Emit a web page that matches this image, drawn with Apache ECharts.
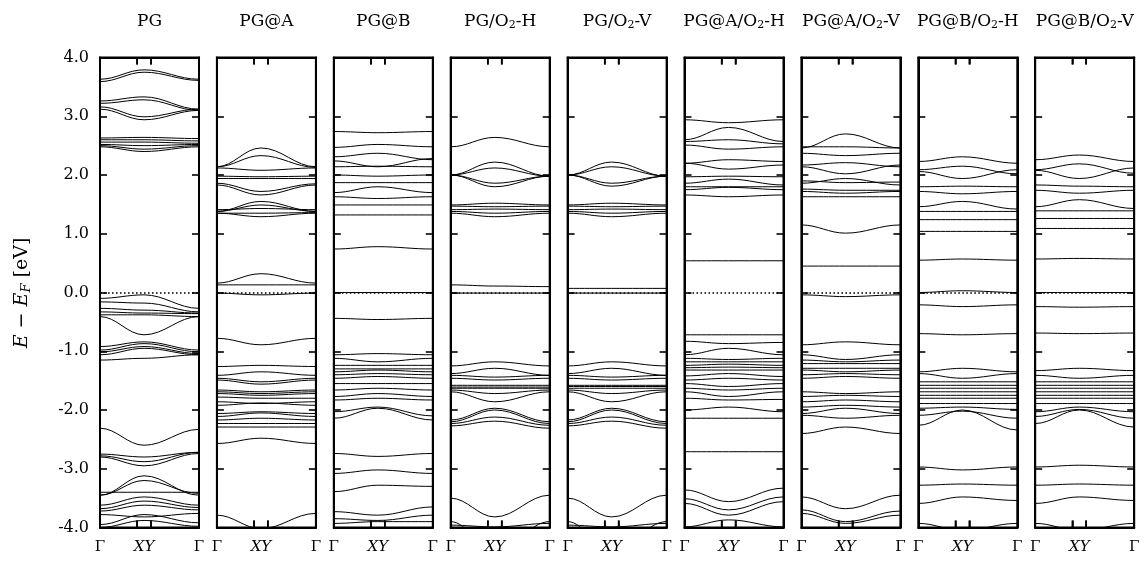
<!DOCTYPE html>
<html><head><meta charset="utf-8">
<script src="https://cdn.jsdelivr.net/npm/echarts@6/dist/echarts.min.js"></script>
<style>html,body{margin:0;padding:0;background:#fff}#c{width:1145px;height:561px}</style>
</head><body><div id="c"></div><script>
// ---------- data ----------
const panelTitles = ['PG','PG@A','PG@B','PG/O2-H','PG/O2-V','PG@A/O2-H','PG@A/O2-V','PG@B/O2-H','PG@B/O2-V'];
const kPoints = [0, 0.445, 1];          // Γ, XY, Γ
const kTicks = [0.375, 0.515];         // X, Y tick positions
const kLabels = ['Γ', 'XY', 'Γ'];
const fermiLevel = 0;
const yMin = -4, yMax = 4;
// each band: [E(Γ), E(XY), E(Γ)]
const bandsPG = [
[3.63,3.79,3.63],[3.59,3.75,3.61],
[3.26,3.33,3.12],[3.22,3.28,3.10],[3.16,2.99,3.12],[3.12,2.94,3.10],
[2.63,2.64,2.62],[2.60,2.60,2.58],[2.56,2.56,2.54],[2.52,2.50,2.52],[2.50,2.44,2.50],[2.48,2.40,2.48],
[-0.10,-0.04,-0.27],[-0.16,-0.18,-0.33],[-0.27,-0.30,-0.35],[-0.33,-0.35,-0.36],[-0.38,-0.38,-0.41],[-0.41,-0.72,-0.41],
[-0.92,-0.84,-0.98],[-0.98,-0.87,-1.01],[-1.01,-0.92,-1.04],[-1.06,-0.95,-1.06],[-1.15,-1.12,-1.06],
[-2.31,-2.60,-2.33],
[-2.75,-2.80,-2.72],[-2.78,-2.88,-2.72],[-2.80,-2.95,-2.74],
[-3.45,-3.12,-3.45],[-3.45,-3.20,-3.42],[-3.40,-3.40,-3.40],[-3.62,-3.48,-3.62],[-3.68,-3.55,-3.66],[-3.72,-3.62,-3.70],[-3.78,-3.82,-3.76],[-3.95,-3.78,-3.92],[-4.0,-3.88,-3.98]
];
const bandsPGA = [
[2.14,2.46,2.14],[2.14,2.33,2.13],[2.12,2.08,2.12],[1.98,1.97,1.98],[1.94,1.94,1.94],[1.86,1.72,1.85],[1.83,1.66,1.83],
[1.38,1.55,1.38],[1.38,1.49,1.38],[1.41,1.43,1.41],[1.35,1.35,1.36],[1.35,1.29,1.35],
[0.16,0.32,0.16],[0.13,0.13,0.13],
[-0.01,-0.04,-0.01],[-0.78,-0.89,-0.78],
[-1.26,-1.24,-1.26],[-1.41,-1.35,-1.41],[-1.46,-1.52,-1.46],[-1.49,-1.56,-1.49],
[-1.66,-1.69,-1.66],[-1.69,-1.72,-1.69],[-1.72,-1.75,-1.72],[-1.78,-1.80,-1.80],[-1.86,-1.89,-1.86],[-1.92,-1.88,-1.92],
[-2.06,-2.03,-2.06],[-2.11,-2.05,-2.11],[-2.17,-2.14,-2.17],[-2.23,-2.23,-2.23],[-2.29,-2.29,-2.29],
[-2.57,-2.48,-2.57],[-3.79,-4.02,-3.76]
];
const bandsPGB = [
[2.74,2.72,2.74],[2.47,2.52,2.48],[2.31,2.37,2.26],[2.24,2.14,2.28],[2.14,2.15,2.14],[2.0,1.98,2.0],[1.87,1.87,1.87],[1.70,1.80,1.70],[1.63,1.60,1.63],[1.49,1.49,1.49],[1.32,1.32,1.32],[0.74,0.78,0.74],
[0,0,0],[-0.44,-0.46,-0.44],
[-1.06,-1.04,-1.06],[-1.12,-1.18,-1.12],[-1.24,-1.24,-1.24],[-1.30,-1.30,-1.30],[-1.35,-1.32,-1.35],[-1.40,-1.38,-1.40],[-1.46,-1.43,-1.46],[-1.55,-1.55,-1.55],[-1.66,-1.63,-1.66],[-1.77,-1.72,-1.77],[-1.83,-1.80,-1.83],[-2.03,-1.95,-2.10],[-2.14,-1.97,-2.17],
[-2.74,-2.79,-2.74],[-3.08,-3.02,-3.08],[-3.39,-3.28,-3.30],[-3.73,-3.79,-3.65],[-3.85,-3.88,-3.79],[-3.93,-3.90,-3.90]
];
const bandsPGO2H = [
[2.48,2.64,2.48],[2.0,2.22,1.98],[2.0,2.12,1.98],[2.0,1.86,1.98],[2.0,1.80,1.98],
[1.49,1.52,1.49],[1.47,1.46,1.47],[1.41,1.42,1.41],[1.38,1.35,1.38],[1.35,1.29,1.35],
[0.13,0.11,0.10],[-0.01,-0.01,-0.01],
[-1.25,-1.18,-1.25],[-1.38,-1.29,-1.41],[-1.41,-1.44,-1.41],[-1.46,-1.49,-1.46],[-1.58,-1.58,-1.58],[-1.61,-1.61,-1.61],[-1.63,-1.63,-1.63],[-1.66,-1.72,-1.66],[-1.69,-1.86,-1.69],
[-2.17,-1.97,-2.20],[-2.20,-2.00,-2.23],[-2.23,-2.12,-2.26],[-2.27,-2.19,-2.31],
[-3.50,-3.82,-3.45],[-3.96,-3.99,-3.93],[-3.90,-4.40,-3.90]
];
const bandsPGO2V = [
[2.0,2.22,1.98],[2.0,2.14,1.98],[2.0,1.86,1.98],[2.0,1.81,1.98],
[1.49,1.52,1.49],[1.47,1.46,1.47],[1.41,1.42,1.41],[1.38,1.35,1.38],[1.35,1.29,1.35],
[0.07,0.07,0.07],[-0.01,-0.01,-0.01],
[-1.25,-1.18,-1.25],[-1.38,-1.29,-1.41],[-1.41,-1.44,-1.41],[-1.46,-1.49,-1.46],[-1.58,-1.58,-1.58],[-1.60,-1.60,-1.60],[-1.63,-1.63,-1.63],[-1.66,-1.72,-1.66],[-1.69,-1.86,-1.69],
[-2.17,-1.97,-2.20],[-2.20,-2.00,-2.23],[-2.23,-2.12,-2.26],[-2.27,-2.19,-2.31],
[-3.50,-3.82,-3.45],[-3.96,-3.99,-3.93],[-3.90,-4.40,-3.90]
];
const bandsPGAO2H = [
[2.94,2.89,2.94],[2.60,2.81,2.57],[2.57,2.60,2.53],[2.51,2.44,2.48],[2.20,2.26,2.23],[2.20,2.10,2.17],[1.97,1.98,1.97],[1.86,1.93,1.83],[1.80,1.80,1.80],[1.75,1.79,1.75],[1.66,1.63,1.66],[0.54,0.54,0.54],
[-0.72,-0.72,-0.72],[-0.83,-0.87,-0.85],[-1.06,-0.95,-1.06],[-1.12,-1.14,-1.12],[-1.18,-1.18,-1.18],[-1.24,-1.22,-1.24],[-1.28,-1.27,-1.28],[-1.32,-1.32,-1.32],[-1.42,-1.38,-1.43],[-1.49,-1.46,-1.49],[-1.55,-1.60,-1.55],[-1.63,-1.66,-1.63],[-1.69,-1.77,-1.69],[-1.80,-1.83,-1.82],[-2.0,-1.95,-2.03],[-2.14,-2.14,-2.14],[-2.71,-2.71,-2.71],
[-3.36,-3.56,-3.33],[-3.51,-3.70,-3.48],[-3.59,-3.79,-3.56],[-3.99,-3.87,-3.99]
];
const bandsPGAO2V = [
[2.46,2.70,2.46],[2.48,2.48,2.46],[2.37,2.33,2.37],[2.17,2.21,2.14],[2.14,2.02,2.17],[1.90,1.87,1.88],[1.86,1.94,1.83],[1.76,1.74,1.74],[1.72,1.69,1.72],[1.63,1.63,1.63],[1.15,1.01,1.15],[0.45,0.45,0.45],
[-0.04,-0.07,-0.04],[-0.89,-0.84,-0.89],[-1.06,-1.14,-1.06],[-1.15,-1.18,-1.15],[-1.21,-1.21,-1.21],[-1.29,-1.29,-1.29],[-1.32,-1.35,-1.32],[-1.40,-1.38,-1.40],[-1.46,-1.43,-1.46],[-1.69,-1.72,-1.69],[-1.77,-1.75,-1.77],[-1.86,-1.83,-1.86],[-1.95,-1.92,-1.95],[-2.06,-1.97,-2.06],[-2.09,-2.14,-2.09],[-2.40,-2.29,-2.40],
[-3.48,-3.68,-3.45],[-3.70,-3.90,-3.72],[-3.76,-3.93,-3.79]
];
const bandsPGBO2H = [
[2.23,2.31,2.20],[2.09,2.15,2.02],[2.06,1.94,2.09],[1.80,1.81,1.80],[1.72,1.68,1.72],[1.46,1.55,1.42],[1.38,1.38,1.38],[1.24,1.24,1.24],[1.04,1.04,1.04],[0.55,0.57,0.55],
[0.0,0.03,0.0],[-0.21,-0.24,-0.21],[-0.70,-0.72,-0.70],
[-1.35,-1.29,-1.35],[-1.38,-1.46,-1.38],[-1.52,-1.52,-1.52],[-1.58,-1.58,-1.58],[-1.63,-1.63,-1.63],[-1.69,-1.69,-1.69],[-1.75,-1.75,-1.75],[-1.80,-1.80,-1.80],[-1.89,-1.89,-1.89],[-1.97,-1.95,-1.99],[-2.09,-2.02,-2.14],[-2.26,-2.00,-2.34],
[-2.97,-3.02,-2.97],[-3.28,-3.26,-3.28],[-3.59,-3.48,-3.54],[-3.93,-4.05,-3.93]
];
const bandsPGBO2V = [
[2.26,2.34,2.23],[2.09,2.19,2.03],[2.08,1.94,2.12],[1.83,1.81,1.80],[1.74,1.69,1.74],[1.46,1.58,1.43],[1.39,1.39,1.39],[1.26,1.26,1.26],[1.09,1.09,1.09],[0.57,0.58,0.57],
[0.0,0.0,0.0],[-0.24,-0.25,-0.24],[-0.69,-0.70,-0.69],
[-1.33,-1.29,-1.33],[-1.41,-1.46,-1.41],[-1.52,-1.52,-1.52],[-1.58,-1.58,-1.58],[-1.63,-1.63,-1.63],[-1.69,-1.69,-1.69],[-1.75,-1.75,-1.75],[-1.80,-1.80,-1.80],[-1.89,-1.89,-1.89],[-2.03,-1.95,-2.03],[-2.11,-1.99,-2.14],[-2.23,-2.00,-2.29],
[-2.97,-2.94,-2.97],[-3.28,-3.26,-3.28],[-3.59,-3.48,-3.54],[-3.93,-4.05,-3.93]
];
const panelBands = [bandsPG,bandsPGA,bandsPGB,bandsPGO2H,bandsPGO2V,bandsPGAO2H,bandsPGAO2V,bandsPGBO2H,bandsPGBO2V];

// ---------- layout ----------
const FONT = 'DejaVu Serif';
const gridLeft0 = 100, gridStep = 116.9, gridW = 99, gridTop = 57.5, gridH = 470;
const TICK_LEN = 7;

function titleRich(t) {
  const parts = t.split('O2');
  if (parts.length === 1) return '{t|' + t + '}';
  return '{t|' + parts[0] + 'O}{s|2}{t|' + parts[1] + '}';
}

const grid = [], xAxis = [], yAxis = [], series = [], graphic = [];
const tickStyle = {show: true, inside: true, length: TICK_LEN, lineStyle: {color: '#000', width: 1.6}};
const edgeLine = {show: true, onZero: false, lineStyle: {color: '#000', width: 2}};
panelBands.forEach((bands, i) => {
  const left = gridLeft0 + i * gridStep;
  grid.push({left: left, top: gridTop, width: gridW, height: gridH, show: true,
    borderColor: '#000', borderWidth: 2, backgroundColor: 'transparent'});
  xAxis.push({type: 'value', gridIndex: i, min: 0, max: 1, position: 'bottom',
    axisLine: edgeLine, splitLine: {show: false},
    axisTick: Object.assign({}, tickStyle, {customValues: kTicks}),
    axisLabel: {show: true, customValues: kPoints, margin: 12, color: '#000',
      fontFamily: FONT, fontSize: 15,
      formatter: v => { const idx = kPoints.indexOf(v); const s = kLabels[idx] || ''; return s === 'XY' ? '{i|XY}' : s; },
      rich: {i: {fontFamily: FONT, fontStyle: 'italic', fontSize: 15, color: '#000'}}}
  });
  xAxis.push({type: 'value', gridIndex: i, min: 0, max: 1, position: 'top',
    axisLine: edgeLine, splitLine: {show: false},
    axisTick: Object.assign({}, tickStyle, {customValues: kTicks}),
    axisLabel: {show: false}});
  yAxis.push({type: 'value', gridIndex: i, min: yMin, max: yMax, interval: 1, position: 'left',
    axisLine: edgeLine, splitLine: {show: false}, axisTick: tickStyle,
    axisLabel: {show: i === 0, margin: 11, color: '#000', fontFamily: FONT, fontSize: 16,
      formatter: v => v.toFixed(1)}});
  yAxis.push({type: 'value', gridIndex: i, min: yMin, max: yMax, interval: 1, position: 'right',
    axisLine: edgeLine, splitLine: {show: false}, axisTick: tickStyle,
    axisLabel: {show: false}});
  series.push({
    type: 'custom', xAxisIndex: 2 * i, yAxisIndex: 2 * i, clip: true, silent: true,
    data: bands,
    renderItem: (params, api) => {
      const a = api.coord([kPoints[0], api.value(0)]);
      const b = api.coord([kPoints[1], api.value(1)]);
      const c = api.coord([kPoints[2], api.value(2)]);
      const s = {stroke: '#000', lineWidth: 1, fill: null};
      const f = 0.38;
      const d1 = b[0] - a[0], d2 = c[0] - b[0];
      return {type: 'group', children: [
        {type: 'bezierCurve', shape: {x1: a[0], y1: a[1], x2: b[0], y2: b[1],
          cpx1: a[0] + f * d1, cpy1: a[1], cpx2: b[0] - f * d1, cpy2: b[1]}, style: s},
        {type: 'bezierCurve', shape: {x1: b[0], y1: b[1], x2: c[0], y2: c[1],
          cpx1: b[0] + f * d2, cpy1: b[1], cpx2: c[0] - f * d2, cpy2: c[1]}, style: s}
      ]};
    }
  });
  // X and Y high-symmetry tick marks on top and bottom edges (through the axes' scales)
  series.push({
    type: 'custom', xAxisIndex: 2 * i, yAxisIndex: 2 * i, silent: true, clip: false,
    data: kTicks.map(k => [k]),
    renderItem: (params, api) => {
      const top = api.coord([api.value(0), yMax]);
      const bot = api.coord([api.value(0), yMin]);
      const s = {stroke: '#000', lineWidth: 1.6};
      return {type: 'group', children: [
        {type: 'line', shape: {x1: top[0], y1: top[1], x2: top[0], y2: top[1] + TICK_LEN}, style: s},
        {type: 'line', shape: {x1: bot[0], y1: bot[1], x2: bot[0], y2: bot[1] - TICK_LEN}, style: s}
      ]};
    }
  });
  series.push({
    type: 'line', xAxisIndex: 2 * i, yAxisIndex: 2 * i, data: [], silent: true,
    markLine: {silent: true, symbol: 'none', label: {show: false}, animation: false,
      lineStyle: {color: '#000', width: 1.6, type: [1.6, 2.4]},
      data: [{yAxis: fermiLevel}]}
  });
  graphic.push({type: 'text', x: left + gridW / 2, y: 22,
    style: {text: titleRich(panelTitles[i]), align: 'center', verticalAlign: 'middle',
      rich: {t: {fontFamily: FONT, fontSize: 17, color: '#000'},
             s: {fontFamily: FONT, fontSize: 11, color: '#000', padding: [7, 0, 0, 0]}}}});
});
graphic.push({type: 'text', x: 22, y: 293, rotation: Math.PI / 2,
  style: {text: '{i|E} − {i|E}{s|F} [eV]', align: 'center', verticalAlign: 'middle',
    rich: {i: {fontFamily: FONT, fontStyle: 'italic', fontSize: 19, color: '#000'},
           s: {fontFamily: FONT, fontStyle: 'italic', fontSize: 13, color: '#000', padding: [9, 0, 0, 0]}},
    fontFamily: FONT, fontSize: 19, fill: '#000'}});

const chart = echarts.init(document.getElementById('c'), null, {renderer: 'canvas'});
chart.setOption({animation: false, backgroundColor: '#fff', grid, xAxis, yAxis, series, graphic});
</script></body></html>
